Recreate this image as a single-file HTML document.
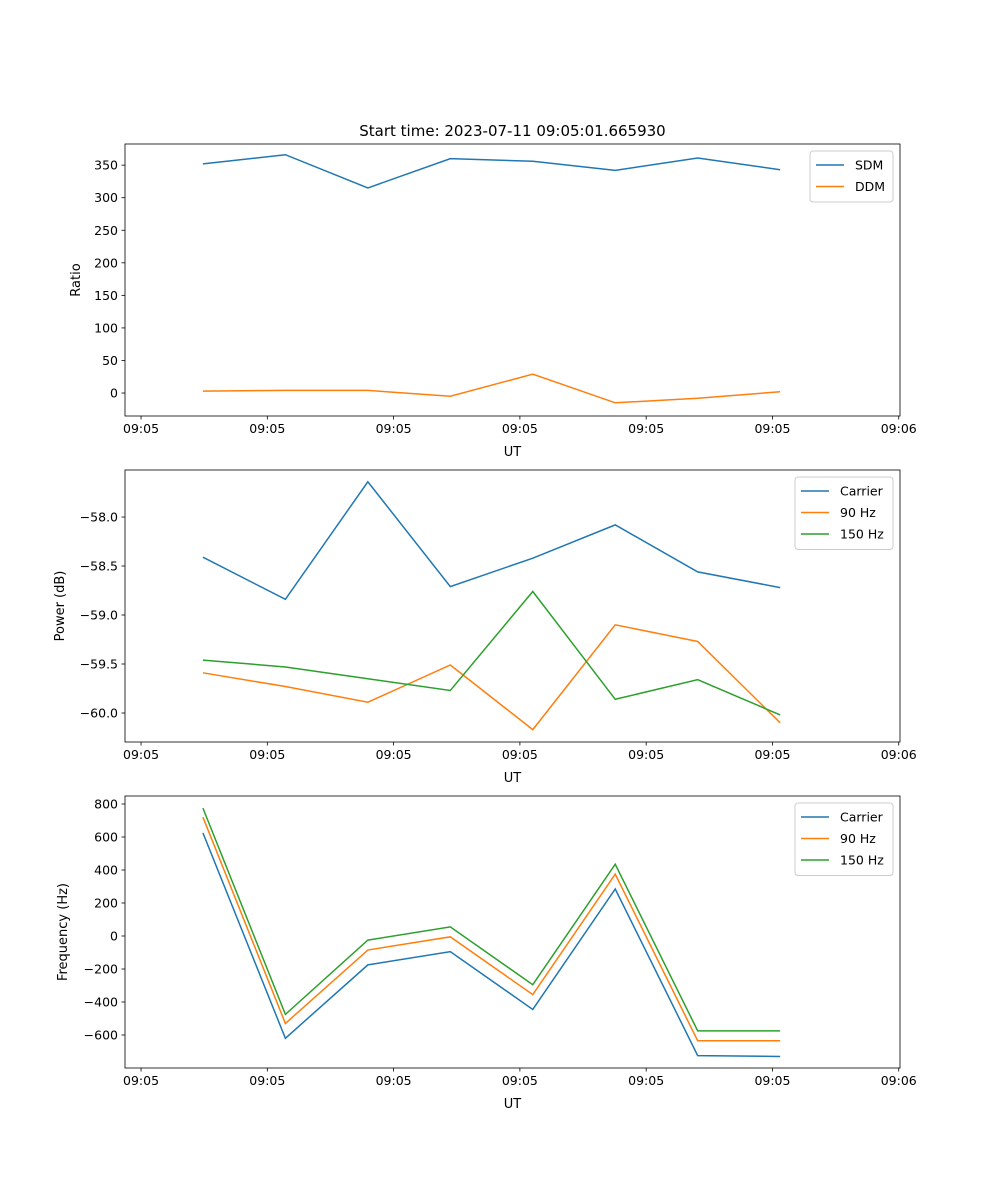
<!DOCTYPE html>
<html><head><meta charset="utf-8">
<style>
body{margin:0;background:#fff;}
svg{display:block;font-family:"DejaVu Sans","Liberation Sans",sans-serif;}
</style></head>
<body>
<svg id="fig" width="1000" height="1200" xmlns="http://www.w3.org/2000/svg">
<rect width="1000" height="1200" fill="#fff"/>
<text x="512.5" y="136" text-anchor="middle" font-size="15">Start time: 2023-07-11 09:05:01.665930</text>
</svg>
<script>
// x data: seconds after 09:05:00
const times = [14.9, 21.43, 27.96, 34.49, 41.02, 47.55, 54.08, 60.61];
const xTickValues = [10, 20, 30, 40, 50, 60, 70];
const xTickLabels = ["09:05","09:05","09:05","09:05","09:05","09:05","09:06"];

const sdm = [352, 366, 315, 360, 356, 342, 361, 343];
const ddm = [3, 4, 4, -5, 29, -15, -8, 2];

const powCarrier = [-58.41, -58.84, -57.64, -58.71, -58.42, -58.08, -58.56, -58.72];
const pow90 = [-59.59, -59.73, -59.89, -59.51, -60.17, -59.10, -59.27, -60.10];
const pow150 = [-59.46, -59.53, -59.65, -59.77, -58.76, -59.86, -59.66, -60.02];

const freqCarrier = [625, -620, -175, -95, -445, 285, -725, -730];
const freq90 = [720, -530, -85, -5, -355, 375, -635, -635];
const freq150 = [775, -475, -25, 55, -295, 435, -575, -575];

const ratioTicks = [0, 50, 100, 150, 200, 250, 300, 350];
const powerTicks = [-60.0, -59.5, -59.0, -58.5, -58.0];
const freqTicks = [-600, -400, -200, 0, 200, 400, 600, 800];

const NS = "http://www.w3.org/2000/svg";
const svg = document.getElementById("fig");
function mk(tag, attrs, parent){
  const e = document.createElementNS(NS, tag);
  for (const k in attrs) e.setAttribute(k, attrs[k]);
  (parent||svg).appendChild(e); return e;
}
const L = 125, R = 900;
const xMin = 8.73, xMax = 70.1;
function xs(t){ return L + (t - xMin) / (xMax - xMin) * (R - L); }

function panel(o){
  const g = mk("g", {});
  
  
  const ys = v => o.bot - (v - o.yMin) / (o.yMax - o.yMin) * (o.bot - o.top);
  o.series.forEach(s => {
    const d = s.vals.map((v,i)=>(i?"L":"M")+xs(times[i]).toFixed(2)+","+ys(v).toFixed(2)).join(" ");
    const p = mk("path", {d:d, fill:"none", stroke:s.color, "stroke-width":1.5}, g);
    
    
  });
  const fr = mk("rect", {x:L, y:o.top, width:R-L, height:o.bot-o.top, fill:"none", stroke:"#000", "stroke-width":0.8}, g);
  
  
  xTickValues.forEach((v,i)=>{
    const x = xs(v);
    mk("line", {x1:x, x2:x, y1:o.bot, y2:o.bot+3.5, stroke:"#000", "stroke-width":0.8}, g);
    const t = mk("text", {x:x, y:o.bot+17, "text-anchor":"middle", "font-size":12.5}, g);
    t.textContent = xTickLabels[i];
    
    
  });
  const xl = mk("text", {x:(L+R)/2, y:o.bot+40, "text-anchor":"middle", "font-size":13}, g);
  xl.textContent = "UT";
  
  
  o.ticks.forEach(v=>{
    const y = ys(v);
    mk("line", {x1:L-3.5, x2:L, y1:y, y2:y, stroke:"#000", "stroke-width":0.8}, g);
    const t = mk("text", {x:L-7, y:y+4.5, "text-anchor":"end", "font-size":12.5}, g);
    t.textContent = o.fmt(v);
    
    
  });
  const cy = (o.top+o.bot)/2;
  const yl = mk("text", {x:o.ylx, y:cy, "text-anchor":"middle", "font-size":13, transform:"rotate(-90 "+o.ylx+" "+cy+")"}, g);
  yl.textContent = o.ylabel;
  
  
  // legend
  const lw = o.legW, lx = R - 7 - lw, ly = o.top + 7;
  const lh = 8 + o.series.length * 21.5;
  const lg = mk("g", {}, g);
  
  
  mk("rect", {x:lx, y:ly, width:lw, height:lh, rx:3, fill:"#fff", "fill-opacity":0.8, stroke:"#ccc"}, lg);
  o.series.forEach((s,i)=>{
    const yy = ly + 14 + i*21.5;
    const e = mk("g", {}, lg);
    
    
    mk("line", {x1:lx+6, x2:lx+34, y1:yy, y2:yy, stroke:s.color, "stroke-width":1.5}, e);
    const t = mk("text", {x:lx+45, y:yy+4.5, "font-size":12.5}, e);
    t.textContent = s.label;
  });
}
const C0="#1f77b4", C1="#ff7f0e", C2="#2ca02c";
panel({name:"ratio-panel", top:144, bot:416, yMin:-35.3, yMax:382.5, ticks:ratioTicks, fmt:v=>String(v).replace("-","\u2212"), ylabel:"Ratio", ylx:80, legW:83,
  series:[{id:"sdm-line",label:"SDM",color:C0,vals:sdm},{id:"ddm-line",label:"DDM",color:C1,vals:ddm}]});
panel({name:"power-panel", top:470, bot:742, yMin:-60.296, yMax:-57.52, ticks:powerTicks, fmt:v=>v.toFixed(1).replace("-","\u2212"), ylabel:"Power (dB)", ylx:64, legW:98,
  series:[{id:"power-carrier-line",label:"Carrier",color:C0,vals:powCarrier},{id:"power-90hz-line",label:"90 Hz",color:C1,vals:pow90},{id:"power-150hz-line",label:"150 Hz",color:C2,vals:pow150}]});
panel({name:"frequency-panel", top:796, bot:1068, yMin:-800, yMax:848.5, ticks:freqTicks, fmt:v=>String(v).replace("-","\u2212"), ylabel:"Frequency (Hz)", ylx:67, legW:98,
  series:[{id:"freq-carrier-line",label:"Carrier",color:C0,vals:freqCarrier},{id:"freq-90hz-line",label:"90 Hz",color:C1,vals:freq90},{id:"freq-150hz-line",label:"150 Hz",color:C2,vals:freq150}]});
</script>
</body></html>
